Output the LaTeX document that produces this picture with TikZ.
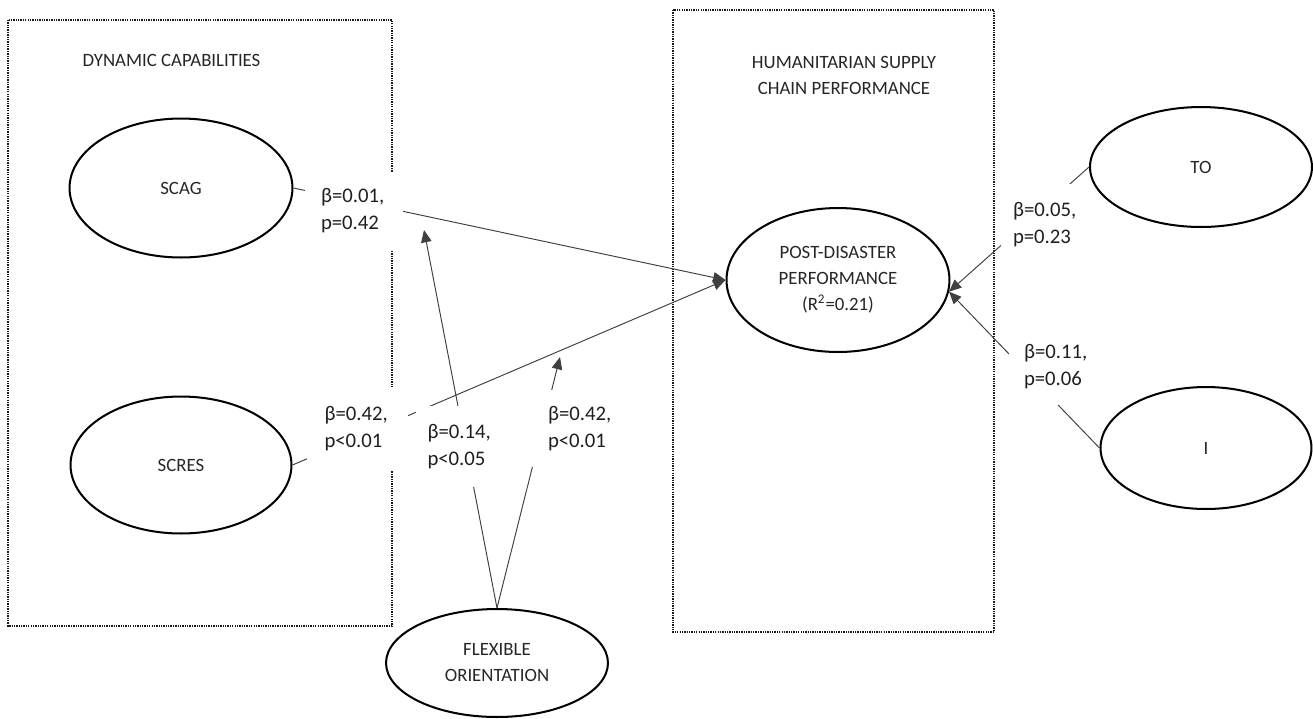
\documentclass[tikz,border=0pt]{standalone}
\usepackage{fontspec}
\setmainfont{Carlito}
\usetikzlibrary{shapes.geometric,arrows.meta}
\tikzset{
  ell/.style={ellipse, draw=black, line width=1.15pt, fill=white, inner sep=0pt, align=center,
              text=black!85, font=\fontsize{10.7}{14.8}\selectfont},
  grp/.style={draw=black!90, line width=1pt, dash pattern=on 0.75pt off 0.6pt},
  ttl/.style={text=black!85, align=center, inner sep=0pt, font=\fontsize{10.7}{14.8}\selectfont},
  lab/.style={fill=white, inner sep=0pt, text width=1.32cm, align=left, text=black!88,
              font=\fontsize{11.8}{15.4}\selectfont},
  conn/.style={draw=black!75, line width=0.55pt},
  arr/.style={conn, -{Triangle[length=7pt,width=6pt]}}
}
\begin{document}
\begin{tikzpicture}[x=0.02cm,y=-0.02cm]
\useasboundingbox (0,0) rectangle (1313,718);
% group boxes
\draw[grp] (8,20) rectangle (392,626);
\draw[grp] (673,10) rectangle (994,632);
\node[ttl] (t1) at (171.5,60) {DYNAMIC CAPABILITIES};
\node[ttl] (t2) at (844,75) {HUMANITARIAN SUPPLY\\CHAIN PERFORMANCE};
% constructs
\node[ell, minimum width=4.46cm, minimum height=2.78cm] (scag) at (181,188) {SCAG};
\node[ell, minimum width=4.42cm, minimum height=2.74cm] (scres) at (181,465) {SCRES};
\node[ell, minimum width=4.44cm, minimum height=2.16cm] (flex) at (497,663) {FLEXIBLE\\ORIENTATION};
\node[ell, minimum width=4.46cm, minimum height=2.88cm] (post) at (838,280) {POST-DISASTER\\PERFORMANCE\\(R\textsuperscript{2}=0.21)};
\node[ell, minimum width=4.44cm, minimum height=2.40cm] (to) at (1201,167) {TO};
\node[ell, minimum width=4.22cm, minimum height=2.44cm] (i) at (1206,448) {I};
% moderation targets
\coordinate (m1) at (424,230);
\coordinate (m2) at (560,357);
% connectors
\draw[arr] (scag.east) -- (post.west);
\draw[arr] (scres.east) -- (post.west);
\draw[arr] (flex.north) -- (m1);
\draw[arr] (flex.north) -- (m2);
\draw[arr] (to.west) -- (post.-6);
\draw[arr] (i.west) -- (post.-6);
% path labels
\node[lab, minimum width=1.96cm, minimum height=1.56cm] (l1) at (354,211) {β=0.01,\\p=0.42};
\node[lab, minimum width=2.02cm, minimum height=1.64cm] (l2) at (357.5,429) {β=0.42,\\p<0.01};
\node[lab, minimum width=1.78cm, minimum height=1.62cm] (l3) at (460.5,446.5) {β=0.14,\\p<0.05};
\node[lab, minimum width=2.04cm, minimum height=1.54cm] (l4) at (581,428.5) {β=0.42,\\p<0.01};
\node[lab, minimum width=1.80cm, minimum height=1.64cm] (l5) at (1046,225) {β=0.05,\\p=0.23};
\node[lab, minimum width=1.92cm, minimum height=1.54cm] (l6) at (1057,366.5) {β=0.11,\\p=0.06};
\end{tikzpicture}
\end{document}
